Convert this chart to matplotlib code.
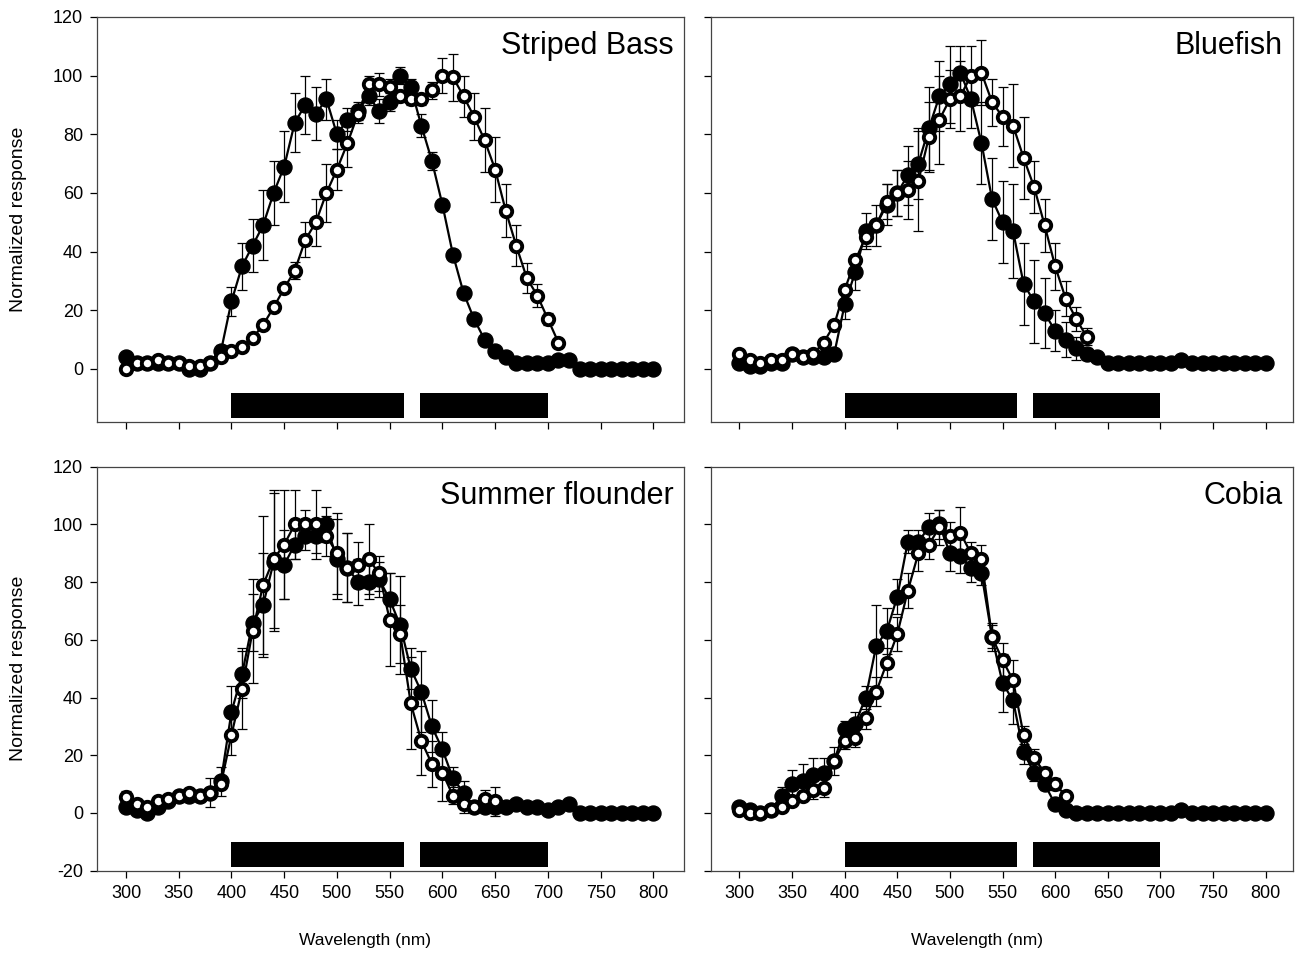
import numpy as np
import matplotlib
matplotlib.use("Agg")
import matplotlib.pyplot as plt

plt.rcParams['font.family'] = ['Liberation Sans', 'DejaVu Sans']
plt.rcParams['axes.unicode_minus'] = False

# wavelength grid (nm)
wl = list(range(300, 801, 10))

# --- Striped Bass ---
bass_fill = [4, 2, 2, 2, 2, 2, 0, 0, 2, 6,
             23, 35, 42, 49, 60, 69, 84, 90, 87, 92,
             80, 85, 88, 93, 88, 91, 100, 96, 83, 71,
             56, 39, 26, 17, 10, 6, 4, 2, 2, 2,
             2, 3, 3, 0, 0, 0, 0, 0, 0, 0, 0]
bass_fill_err = [0, 0, 0, 0, 0, 0, 0, 0, 0, 2,
                 5, 8, 9, 12, 11, 12, 10, 10, 9, 7,
                 5, 4, 3, 3, 4, 3, 3, 3, 4, 3,
                 2, 1, 0, 0, 0, 0, 0, 0, 0, 0,
                 0, 0, 0, 0, 0, 0, 0, 0, 0, 0, 0]
bass_open = [0, 2, 2, 3, 2, 2, 1, 1, 2, 4,
             6, 7.5, 10.5, 15, 21, 27.5, 33.5, 44, 50, 60,
             68, 77, 87, 97, 97, 96, 93, 92, 92, 95,
             100, 99.5, 93, 86, 78, 68, 54, 42, 31, 25,
             17, 9]
bass_open_err = [0, 0, 0, 0, 0, 0, 0, 0, 0, 0,
                 0, 0, 0, 0, 0, 0, 3, 6, 8, 10,
                 7, 8, 3, 3, 4, 3, 2, 2, 2, 3,
                 6, 8, 7, 8, 11, 11, 9, 7, 5, 4,
                 2, 0]

# --- Bluefish ---
blue_fill = [2, 1, 1, 2, 2, 5, 4, 4, 4, 5,
             22, 33, 47, 49, 56, 60, 66, 70, 82, 93,
             97, 101, 92, 77, 58, 50, 47, 29, 23, 19,
             13, 10, 7, 5, 4, 2, 2, 2, 2, 2,
             2, 2, 3, 2, 2, 2, 2, 2, 2, 2, 2]
blue_fill_err = [0, 0, 0, 0, 0, 0, 0, 0, 0, 1,
                 5, 6, 6, 7, 7, 8, 10, 12, 14, 12,
                 13, 9, 10, 14, 14, 14, 16, 14, 14, 12,
                 7, 6, 4, 2, 0, 0, 0, 0, 0, 0,
                 0, 0, 0, 0, 0, 0, 0, 0, 0, 0, 0]
blue_open = [5, 3, 2, 3, 3, 5, 4, 5, 9, 15,
             27, 37, 45, 49, 57, 60, 61, 64, 79, 85,
             92, 93, 100, 101, 91, 86, 83, 72, 62, 49,
             35, 24, 17, 11]
blue_open_err = [0, 0, 0, 0, 0, 0, 0, 0, 0, 0,
                 0, 0, 3, 0, 6, 8, 10, 17, 12, 15,
                 10, 12, 10, 11, 8, 10, 14, 14, 9, 9,
                 8, 6, 4, 3]

# --- Summer flounder ---
flou_fill = [2, 1, 0, 2, 4, 6, 6, 6, 7, 11,
             35, 48, 66, 72, 87, 86, 93, 96, 96, 100,
             88, 85, 80, 80, 81, 74, 65, 50, 42, 30,
             22, 12, 7, 2, 2, 2, 2, 3, 2, 2,
             1, 2, 3, 0, 0, 0, 0, 0, 0, 0, 0]
flou_fill_err = [0, 0, 0, 0, 0, 0, 0, 0, 5, 5,
                 9, 8, 10, 18, 24, 12, 5, 5, 6, 6,
                 14, 12, 8, 6, 6, 9, 17, 7, 14, 9,
                 6, 4, 4, 0, 0, 0, 0, 0, 0, 0,
                 0, 0, 0, 0, 0, 0, 0, 0, 0, 0, 0]
flou_open = [5.5, 3, 2, 4, 5, 6, 7, 6, 7, 10,
             27, 43, 63, 79, 88, 93, 100, 100, 100, 96,
             90, 85, 86, 88, 83, 67, 62, 38, 25, 17,
             14, 6, 3, 2, 5, 4]
flou_open_err = [2, 2, 0, 0, 0, 0, 0, 0, 0, 0,
                 7, 14, 18, 24, 24, 19, 12, 5, 12, 7,
                 14, 12, 8, 12, 6, 16, 10, 16, 12, 8,
                 10, 3, 3, 0, 3, 5]

# --- Cobia ---
cobia_fill = [2, 1, 0, 1, 6, 10, 11, 13, 14, 18,
              29, 31, 40, 58, 63, 75, 94, 94, 99, 100,
              90, 89, 85, 83, 61, 45, 39, 21, 14, 10,
              3, 1, 0, 0, 0, 0, 0, 0, 0, 0,
              0, 0, 1, 0, 0, 0, 0, 0, 0, 0, 0]
cobia_fill_err = [0, 0, 0, 0, 3, 5, 6, 6, 5, 5,
                  3, 4, 4, 14, 8, 6, 4, 4, 5, 5,
                  6, 6, 5, 4, 5, 10, 8, 4, 3, 2,
                  0, 0, 0, 0, 0, 0, 0, 0, 0, 0,
                  0, 0, 0, 0, 0, 0, 0, 0, 0, 0, 0]
cobia_open = [1, 0, 0, 1, 2, 4, 6, 8, 8.6, 18,
              25, 26, 33, 42, 52, 62, 77, 90, 93, 99,
              96, 97, 90, 88, 61, 53, 46, 27, 19, 14,
              10, 6]
cobia_open_err = [0, 0, 0, 0, 0, 0, 0, 3, 3, 0,
                  3, 3, 4, 5, 5, 6, 6, 6, 5, 6,
                  5, 9, 4, 5, 4, 6, 7, 3, 3, 2,
                  2, 1]

# stimulus bands drawn under the curves (nm)
bands = [(400, 564), (579, 700)]

panels = [
    ("Striped Bass", bass_fill, bass_fill_err, bass_open, bass_open_err),
    ("Bluefish", blue_fill, blue_fill_err, blue_open, blue_open_err),
    ("Summer flounder", flou_fill, flou_fill_err, flou_open, flou_open_err),
    ("Cobia", cobia_fill, cobia_fill_err, cobia_open, cobia_open_err),
]

fig = plt.figure(figsize=(13.07, 9.55), dpi=100)
boxes = [[0.0742, 0.5584, 0.4491, 0.4238],
         [0.5440, 0.5584, 0.4453, 0.4238],
         [0.0742, 0.0883, 0.4491, 0.4230],
         [0.5440, 0.0883, 0.4453, 0.4230]]
xlims = [(272.5, 829), (273, 826), (272.5, 829), (273, 826)]
ylims = [(-18, 120), (-18, 120), (-20, 120), (-20, 120)]

for i, (name, yf, ef, yo, eo) in enumerate(panels):
    ax = fig.add_axes(boxes[i])
    y0 = ylims[i][0]
    for a, b in bands:
        ax.fill_between([a, b], y0 + 1.3, y0 + 9.8, color='black', lw=0, zorder=1)

    ax.errorbar(wl, yf, yerr=ef, fmt='none', ecolor='black', elinewidth=0.9,
                capsize=3.5, capthick=0.9, zorder=2)
    ax.errorbar(wl[:len(yo)], yo, yerr=eo, fmt='none', ecolor='black', elinewidth=0.9,
                capsize=3.5, capthick=0.9, zorder=2)
    ax.plot(wl, yf, '-o', color='black', lw=1.6, ms=10.8, mfc='black', mec='black',
            zorder=3)
    ax.plot(wl[:len(yo)], yo, '-o', color='black', lw=1.6, ms=8.2, mfc='white',
            mec='black', mew=2.8, zorder=4)

    ax.set_xlim(*xlims[i])
    ax.set_ylim(*ylims[i])
    ax.set_xticks(range(300, 801, 50))
    ax.set_yticks(range(ylims[i][0] if i >= 2 else 0, 121, 20))
    ax.tick_params(direction='out', length=5, width=0.9, labelsize=13, pad=5)
    for s in ax.spines.values():
        s.set_linewidth(0.9)
        s.set_color('#444444')

    if i < 2:
        ax.tick_params(labelbottom=False)
    else:
        ax.set_xlabel('Wavelength (nm)', fontsize=12.5)
        ax.xaxis.set_label_coords(0.457, -0.155)
    if i % 2 == 1:
        ax.tick_params(labelleft=False)
    else:
        ax.set_ylabel('Normalized response', fontsize=14)
        ax.yaxis.set_label_coords(-0.12, 0.5)

    ax.text(0.982, 0.965, name, transform=ax.transAxes, ha='right', va='top',
            fontsize=22)

plt.savefig("out.png", dpi=100)
